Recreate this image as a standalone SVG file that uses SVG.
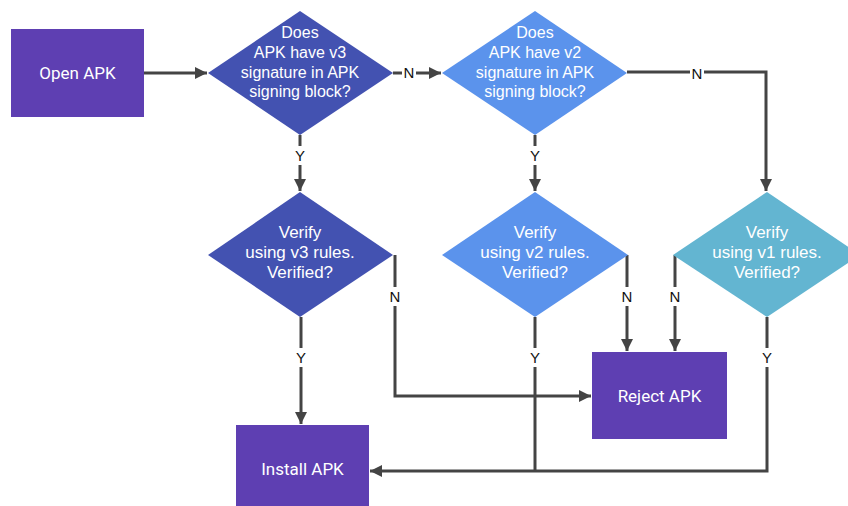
<svg xmlns="http://www.w3.org/2000/svg" width="848" height="506" viewBox="0 0 848 506">
<style>
.box{fill:#5E3FB2}
.d3{fill:#4352B1}
.d2{fill:#5B93EC}
.d1{fill:#63B5D1}
.t{font-family:"Liberation Sans",Arial,sans-serif;font-size:16px;fill:#ffffff;text-anchor:middle}
.tv{font-family:"Liberation Sans",Arial,sans-serif;font-size:17px;fill:#ffffff;text-anchor:middle}
.bt{font-family:Roboto,"Liberation Sans",sans-serif;font-size:17px;fill:#ffffff;text-anchor:middle}
.c{fill:none;stroke:#444444;stroke-width:3}
.lbl{font-family:"Liberation Sans",Arial,sans-serif;font-size:15px;fill:#111111;text-anchor:middle}
.bg{fill:#ffffff}
</style>
<defs>
<marker id="ah" viewBox="0 0 10 10" refX="10" refY="5" markerWidth="4.3" markerHeight="4" orient="auto" markerUnits="strokeWidth">
<path d="M0,0 L10,5 L0,10 z" fill="#444444"/>
</marker>
</defs>
<rect width="848" height="506" fill="#ffffff"/>
<g id="connectors">
<path class="c" d="M144,73 H207" marker-end="url(#ah)"/>
<path class="c" d="M393,73 H441" marker-end="url(#ah)"/>
<path class="c" d="M627,72 H766 V191" marker-end="url(#ah)"/>
<path class="c" d="M300,135 V191" marker-end="url(#ah)"/>
<path class="c" d="M535,135 V191" marker-end="url(#ah)"/>
<path class="c" d="M301,317 V424" marker-end="url(#ah)"/>
<path class="c" d="M395,255 V396 H591" marker-end="url(#ah)"/>
<path class="c" d="M627,255 V351" marker-end="url(#ah)"/>
<path class="c" d="M675,255 V351" marker-end="url(#ah)"/>
<path class="c" d="M535,317 V471"/>
<path class="c" d="M767,317 V471 H370" marker-end="url(#ah)"/>
<g id="labels">
<rect class="bg" x="402" y="63" width="14" height="19"/><text class="lbl" x="409" y="78">N</text>
<rect class="bg" x="690" y="64" width="14" height="19"/><text class="lbl" x="697" y="79">N</text>
<rect class="bg" x="293" y="146" width="14" height="19"/><text class="lbl" x="300" y="161">Y</text>
<rect class="bg" x="528" y="146" width="14" height="19"/><text class="lbl" x="535" y="161">Y</text>
<rect class="bg" x="388" y="287" width="14" height="19"/><text class="lbl" x="395" y="302">N</text>
<rect class="bg" x="620" y="287" width="14" height="19"/><text class="lbl" x="627" y="302">N</text>
<rect class="bg" x="668" y="287" width="14" height="19"/><text class="lbl" x="675" y="302">N</text>
<rect class="bg" x="294" y="348" width="14" height="19"/><text class="lbl" x="301" y="363">Y</text>
<rect class="bg" x="528" y="348" width="14" height="19"/><text class="lbl" x="535" y="363">Y</text>
<rect class="bg" x="760" y="348" width="14" height="19"/><text class="lbl" x="767" y="363">Y</text>
</g>
</g>
<g id="open-apk">
<rect class="box" x="11" y="29" width="133" height="88"/>
<text class="bt" x="77.5" y="79">Open APK</text>
</g>
<g id="has-v3">
<polygon class="d3" points="300,11 393,73 300,135 208,73"/>
<text class="t" x="300" y="38">Does</text>
<text class="t" x="300" y="58">APK have v3</text>
<text class="t" x="300" y="78">signature in APK</text>
<text class="t" x="300" y="97">signing block?</text>
</g>
<g id="has-v2">
<polygon class="d2" points="535,11 627,73 535,135 442,73"/>
<text class="t" x="535" y="38">Does</text>
<text class="t" x="535" y="58">APK have v2</text>
<text class="t" x="535" y="78">signature in APK</text>
<text class="t" x="535" y="97">signing block?</text>
</g>
<g id="verify-v3">
<polygon class="d3" points="300,192 393,255 300,317 208,255"/>
<text class="tv" x="300" y="238">Verify</text>
<text class="tv" x="300" y="258">using v3 rules.</text>
<text class="tv" x="300" y="278">Verified?</text>
</g>
<g id="verify-v2">
<polygon class="d2" points="535,192 628,255 535,317 442,255"/>
<text class="tv" x="535" y="238">Verify</text>
<text class="tv" x="535" y="258">using v2 rules.</text>
<text class="tv" x="535" y="278">Verified?</text>
</g>
<g id="verify-v1">
<polygon class="d1" points="767,192 860,255 767,317 673,255"/>
<text class="tv" x="767" y="238">Verify</text>
<text class="tv" x="767" y="258">using v1 rules.</text>
<text class="tv" x="767" y="278">Verified?</text>
</g>
<g id="reject-apk">
<rect class="box" x="592" y="352" width="135" height="87"/>
<text class="bt" x="659.5" y="402">Reject APK</text>
</g>
<g id="install-apk">
<rect class="box" x="236" y="425" width="133" height="88"/>
<text class="bt" x="302.5" y="475">Install APK</text>
</g>
</svg>
